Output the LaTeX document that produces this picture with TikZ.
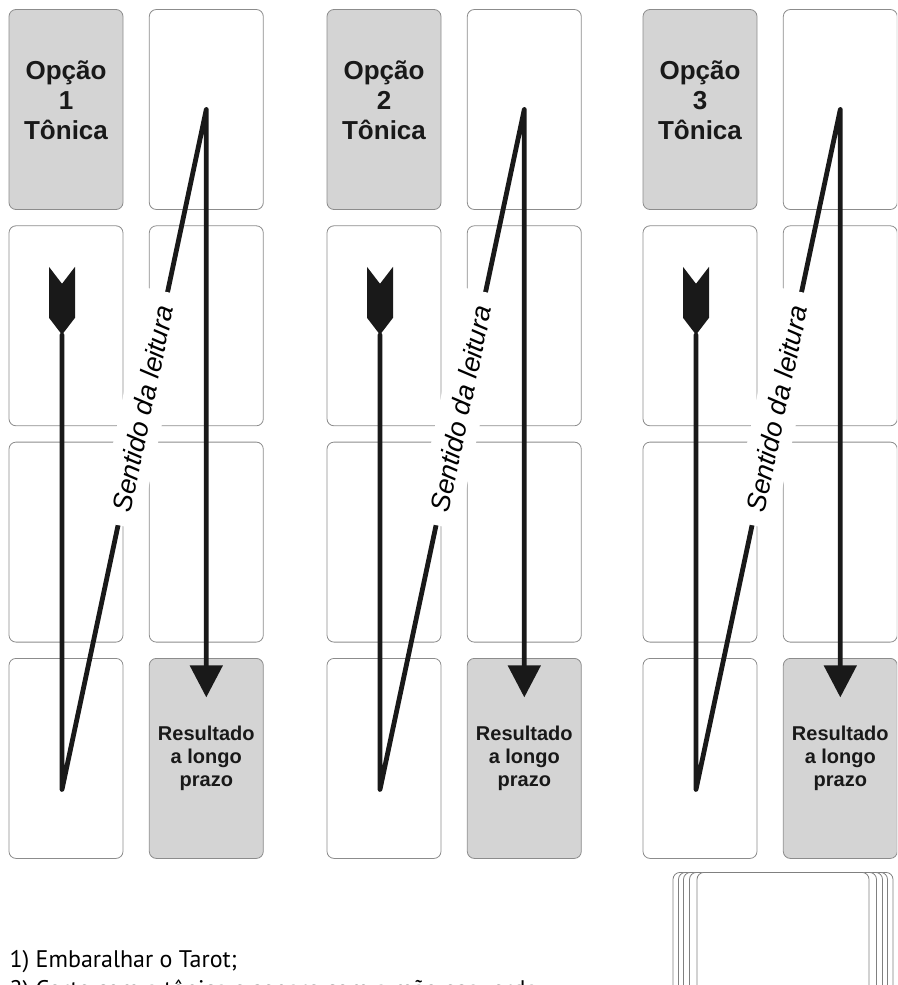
\documentclass[tikz,border=0pt]{standalone}
\usepackage{fontspec}
\setmainfont{Liberation Sans}
\newfontfamily\notefont{PT Sans}
\usetikzlibrary{positioning, arrows.meta, shapes.symbols}

\begin{document}
\begin{tikzpicture}[
    x=1pt, y=1pt,
    node distance=15.5pt and 25.5pt,
    card/.style={rectangle, rounded corners=7pt, draw=black!45, fill=white, line width=0.8pt, minimum width=114pt, minimum height=200pt, inner sep=0pt},
    graycard/.style={card, fill=black!17},
    cardtext/.style={align=center, font=\bfseries\fontsize{26}{30}\selectfont, text=black!90},
    restext/.style={align=center, font=\bfseries\fontsize{20}{23}\selectfont, text=black!90},
    fletch/.style={signal, signal to=south, signal from=north, signal pointer angle=75, fill=black!90, minimum width=26pt, minimum height=34pt, inner sep=0pt},
    arrow/.style={-{Triangle[width=32pt, length=32pt]}, line width=4.8pt, line join=round, line cap=round, draw=black!90},
    reading/.style={sloped, fill=white, inner xsep=14pt, inner ysep=12pt, font=\itshape\fontsize{27}{27}\selectfont},
    deckcard/.style={rectangle, rounded corners=7pt, draw=black!50, fill=white, line width=0.8pt, minimum height=200pt, anchor=north},
    note/.style={anchor=base west, font=\notefont\fontsize{24}{28}\selectfont}
]
\useasboundingbox (0,0) rectangle (897,-985);
\clip (0,0) rectangle (897,-985);

% Three spreads
\foreach \g/\gx in {1/9, 2/327, 3/643} {
    \node[graycard] (ton\g) at (\gx+57, -109.5) {};
    \node[card, right=of ton\g] (up\g) {};
    \node[card, below=of ton\g] (l2\g) {};
    \node[card, right=of l2\g] (r2\g) {};
    \node[card, below=of l2\g] (l3\g) {};
    \node[card, right=of l3\g] (r3\g) {};
    \node[card, below=of l3\g] (l4\g) {};
    \node[graycard, right=of l4\g] (res\g) {};

    \node[cardtext] (opc\g) at ([yshift=9.5pt]ton\g.center) {Opção\\\g\\Tônica};
    \node[restext] (reslab\g) at (res\g.center) {Resultado\\a longo\\prazo};

    % Reading direction
    \node[fletch] (fl\g) at ([shift={(-4pt,25pt)}]l2\g.center) {};
    \coordinate (vbot\g) at ([shift={(-4pt,-31pt)}]l4\g.center);
    \coordinate (tip\g) at ([yshift=61pt]res\g.center);
    \draw[arrow] (fl\g.south) -- (vbot\g) -- node[reading, pos=0.56] (txt\g) {Sentido da leitura} (up\g.center) -- (tip\g);
}

% Deck
\foreach \w [count=\i] in {220, 209, 199, 187, 172}
    \node[deckcard, minimum width=\w pt] (deck\i) at (783, -872) {};

% Steps
\node[note] (step1) at (6, -967) {1) Embaralhar o Tarot;};
\node[note] (step2) at ([yshift=-30pt]step1.base west) {2) Corte com a tônica e separe com a mão esquerda};

\end{tikzpicture}
\end{document}
